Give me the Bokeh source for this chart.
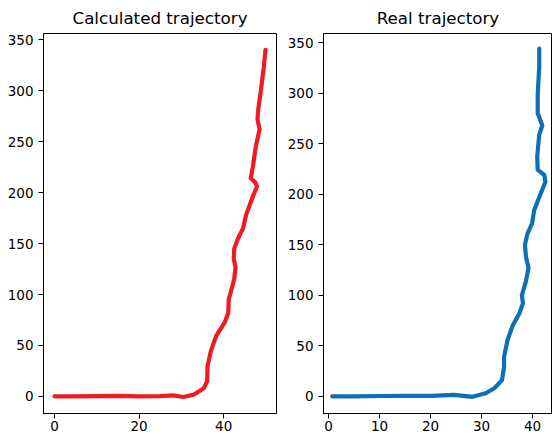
from bokeh.plotting import figure
from bokeh.layouts import row
from bokeh.models import Range1d, FixedTicker
from bokeh.embed import file_html
from bokeh.resources import INLINE

# Calculated trajectory (red)
calc_x = [0, 5, 10, 15, 20, 25, 28, 30.5, 33, 35.3, 36.1, 36.2, 37.0, 38.3, 40.3, 41.1,
          41.2, 42.5, 42.8, 42.4, 42.5, 43.4, 44.6, 45.3, 46.8, 47.9, 47.5, 46.4, 46.9,
          47.6, 48.5, 48.0, 48.2, 48.8, 49.5, 49.9]
calc_y = [0, 0, 0.3, 0.5, 0, 0.3, 1, -0.5, 2, 8, 15, 30, 45, 60, 73, 82,
          95, 115, 127, 135, 145, 155, 165, 178, 195, 206, 210, 214, 225,
          245, 262, 272, 282, 300, 323, 340]

# Real trajectory (blue)
real_x = [0.7, 5, 10, 15, 20, 24.6, 28.2, 30.8, 32.5, 34.0, 34.4, 34.4, 35.1, 36.1, 37.4,
          38.1, 37.9, 38.7, 39.2, 38.7, 38.5, 39.0, 39.9, 40.3, 41.3, 42.5, 42.3, 41.0,
          40.9, 41.3, 41.9, 41.0, 41.0, 41.3, 41.3]
real_y = [0, 0, 0.3, 0.5, 0.5, 1.5, -0.5, 3, 8, 16, 29, 39, 56, 70, 82,
          92, 100, 114, 127, 138, 150, 161, 171, 184, 197, 212, 219, 224,
          237, 259, 268, 280, 299, 326, 344]

left_xticks = [0, 20, 40]
right_xticks = [0, 10, 20, 30, 40]
yticks = [0, 50, 100, 150, 200, 250, 300, 350]

FONT = "DejaVu Sans"


def make_fig(title, xs, ys, color, xr, yr, xticks, width, mbl, mbr):
    p = figure(width=width, height=441, output_backend="svg", toolbar_location=None,
               x_range=Range1d(*xr), y_range=Range1d(*yr),
               min_border_left=mbl, min_border_right=mbr,
               min_border_top=33, min_border_bottom=28)
    p.title.text = title
    p.title.align = "center"
    p.title.text_font = FONT
    p.title.text_font_size = "16.7px"
    p.title.text_font_style = "normal"
    p.title.text_color = "#000000"
    p.title.standoff = 11
    p.xgrid.visible = False
    p.ygrid.visible = False
    p.outline_line_color = "#000000"
    p.outline_line_width = 1
    p.background_fill_color = "white"
    p.border_fill_color = "white"
    for ax in (p.xaxis[0], p.yaxis[0]):
        ax.axis_line_color = "#000000"
        ax.major_tick_line_color = "#000000"
        ax.minor_tick_line_color = None
        ax.major_tick_in = 0
        ax.major_tick_out = 5
        ax.major_label_text_font = FONT
        ax.major_label_text_font_size = "13.5px"
        ax.major_label_text_color = "#000000"
    p.xaxis[0].major_label_standoff = 2
    p.yaxis[0].major_label_standoff = 5
    p.xaxis[0].ticker = FixedTicker(ticks=xticks)
    p.yaxis[0].ticker = FixedTicker(ticks=yticks)
    p.line(xs, ys, line_color=color, line_width=4.2, line_join="round", line_cap="round")
    return p


p1 = make_fig("Calculated trajectory", calc_x, calc_y, "#ee1b24",
              (-2.6, 52.5), (-16.7, 356), left_xticks, 280, 43, 4)
p2 = make_fig("Real trajectory", real_x, real_y, "#0f6fb6",
              (-1.0, 43.9), (-17, 359), right_xticks, 272, 43, 0)

layout = row(p1, p2)
open("out.html", "w").write(file_html(layout, INLINE))
